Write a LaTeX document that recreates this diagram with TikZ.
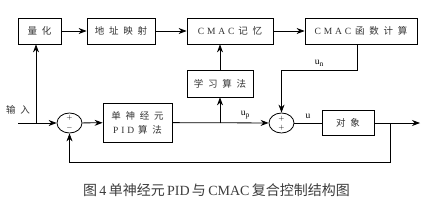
\documentclass[tikz,border=0pt]{standalone}
\usepackage{fontspec}
\setmainfont{Liberation Serif}
\newfontfamily\cjk{Noto Sans CJK SC}
\newfontfamily\cjksp[LetterSpace=50]{Noto Sans CJK SC}
\newfontfamily\latsp[LetterSpace=30]{Liberation Serif}
\usetikzlibrary{arrows.meta, shapes.geometric}
\definecolor{textgray}{RGB}{50,50,50}
\definecolor{capgray}{RGB}{60,60,60}
\newcommand{\sig}[1]{u\raisebox{-2pt}{\fontsize{7.5}{8}\selectfont#1}}

\begin{document}
\begin{tikzpicture}[
    x=1pt, y=-1pt,
    font=\fontsize{9.5}{14}\selectfont,
    block/.style={rectangle, draw, line width=0.8pt, inner sep=0pt, minimum height=26pt, align=center, text=textgray},
    sumnode/.style={ellipse, draw, line width=0.8pt, minimum width=25pt, minimum height=20pt, inner sep=0pt},
    sign/.style={inner sep=0pt, font=\fontsize{7}{7}\selectfont},
    arrow/.style={-{Stealth[length=8pt,width=6pt]}, line width=0.8pt},
    line/.style={line width=0.8pt}
]
\useasboundingbox (0,0) rectangle (433,204);

% upper row: CMAC part
\node[block, minimum width=43pt] (quant) at (39.5,31) {\cjksp 量化};
\node[block, minimum width=68pt] (addr) at (121,31) {\cjksp 地址映射};
\node[block, minimum width=86pt] (mem) at (230,31) {{\latsp CMAC}\hspace{0.4em}{\cjksp 记忆}};
\node[block, minimum width=112pt] (func) at (361,31) {{\latsp CMAC}\hspace{0.4em}{\cjksp 函数计算}};
\node[block, minimum width=66pt, minimum height=27pt] (learn) at (220,83.5) {\cjksp 学习算法};

% lower row: PID loop
\node[sumnode] (sum1) at (69.5,123) {};
\node[sign] at ([yshift=5pt]sum1.center) {$+$};
\node[sign] at ([yshift=-5pt]sum1.center) {$-$};
\node[block, minimum width=69pt, minimum height=39pt] (pid) at (137.5,122.5) {{\cjksp 单神经元}\\{\latsp PID}\hspace{0.4em}{\cjksp 算法}};
\node[sumnode] (sum2) at (281.5,123) {};
\node[sign] at ([yshift=4.5pt]sum2.center) {$+$};
\node[sign] at ([yshift=-4.5pt]sum2.center) {$+$};
\node[block, minimum width=52pt, minimum height=25pt] (plant) at (348,123) {\cjksp 对象};

\coordinate (in) at (18,123);
\coordinate (inbr) at (36,123);
\coordinate (upbr) at (220,123);
\coordinate (unturn) at (357,70);
\coordinate (out) at (420,123);
\coordinate (fb) at (390,123);
\coordinate (fbdown) at (390,162);

\node[text=textgray] (inlabel) at (18,110) {\cjksp 输入};

\draw[arrow] (in) -- (sum1);
\draw[arrow] (inbr) -- (inbr |- quant.south);
\draw[arrow] (quant) -- (addr);
\draw[arrow] (addr) -- (mem);
\draw[arrow] (mem) -- (func);
\draw[arrow] (sum1) -- (pid);
\draw[arrow] (pid) -- (sum2);
\draw[arrow] (upbr) -- (learn);
\draw[arrow] (learn.north) -- (learn.north |- mem.south);
\draw[arrow] (unturn |- func.south) -- (unturn) -| (sum2);
\draw[line] (sum2) -- node[above=1pt] (ulabel) {u} (plant);
\draw[arrow] (plant) -- (out);
\draw[arrow] (fb) -- (fbdown) -| (sum1);

\node (uplabel) at (245,115) {\sig{p}};
\node (unlabel) at (319,63) {\sig{n}};

% caption
\node[text=capgray, font=\fontsize{14}{16}\selectfont] (caption) at (216.5,190)
    {{\cjk 图}\,4\,{\cjk 单神经元}\,PID\,{\cjk 与}\,CMAC\,{\cjk 复合控制结构图}};
\end{tikzpicture}
\end{document}
